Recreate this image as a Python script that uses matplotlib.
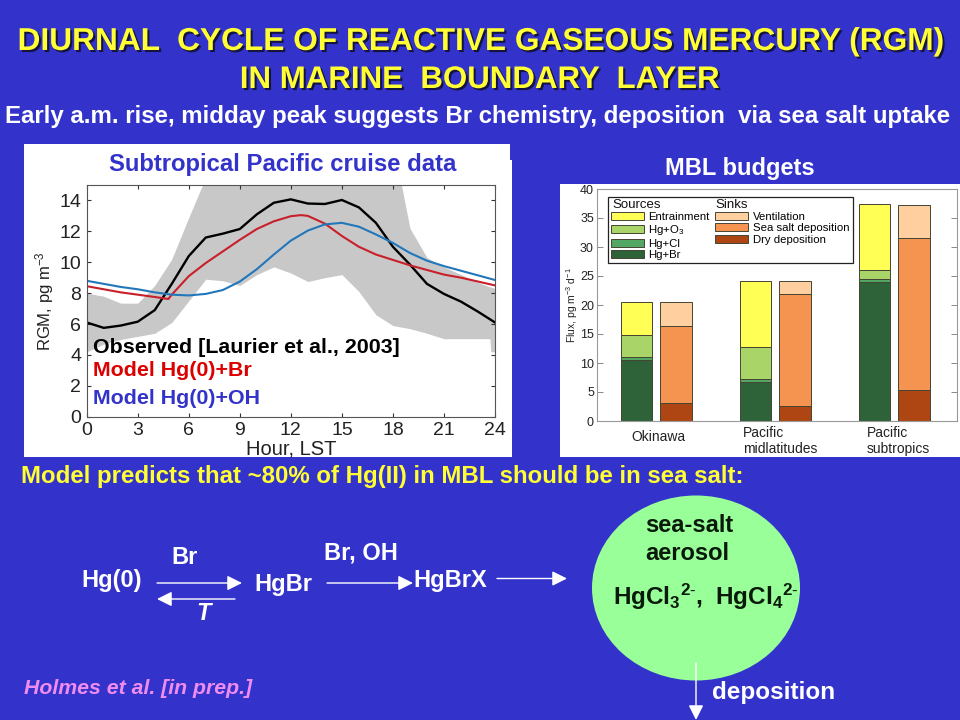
import matplotlib
matplotlib.use('Agg')
import matplotlib.pyplot as plt
import matplotlib.patheffects as pe
from matplotlib.patches import Ellipse, Patch, Rectangle

plt.rcParams['font.family'] = ['Liberation Sans', 'DejaVu Sans']
plt.rcParams['mathtext.fontset'] = 'custom'
plt.rcParams['mathtext.rm'] = 'Liberation Sans'
plt.rcParams['mathtext.bf'] = 'Liberation Sans:bold'
plt.rcParams['mathtext.default'] = 'regular'

# diurnal cycle, hour of day vs RGM
hours = [0, 1, 2, 3, 4, 5, 6, 7, 8, 9, 10, 11, 12, 13, 14, 15, 16, 17, 18, 19, 20, 21, 22, 23, 24]
observed = [6.1, 5.75, 5.9, 6.15, 6.9, 8.6, 10.4, 11.6, 11.85, 12.15, 13.1, 13.85, 14.07, 13.8, 13.77,
            14.03, 13.55, 12.55, 11.0, 9.85, 8.6, 7.95, 7.45, 6.8, 6.1]
band_hours = [0, 1, 2, 3, 4, 5, 6, 7, 8, 9, 10, 11, 12, 13, 14, 15, 16, 17, 18, 18.5, 19, 20, 21, 22, 23, 23.7, 23.75, 24]
band_upper = [8.0, 7.8, 7.35, 7.35, 8.5, 10.2, 12.9, 15.5, 15.5, 15.5, 15.5, 15.5, 15.5, 15.5, 15.5,
              15.5, 15.5, 15.5, 15.5, 15.0, 12.2, 10.3, 9.7, 9.2, 8.7, 8.4, 8.4, 8.3]
band_lower = [4.2, 4.7, 5.0, 5.2, 5.4, 6.1, 7.5, 8.9, 8.8, 8.5, 9.2, 9.7, 9.3, 8.75, 9.0,
              9.2, 8.1, 6.6, 5.9, 5.8, 5.7, 5.4, 5.05, 5.05, 5.05, 5.05, 4.2, 4.2]
br_hours = [0, 1, 2, 3, 4, 4.8, 5, 6, 7, 8, 9, 10, 11, 12, 12.6, 13, 14, 15, 16, 17, 18, 19, 20, 21, 22, 23, 24]
model_br = [8.45, 8.25, 8.05, 7.9, 7.75, 7.62, 7.9, 9.1, 9.95, 10.7, 11.45, 12.15, 12.65, 12.98, 13.05,
            13.0, 12.5, 11.7, 11.0, 10.5, 10.15, 9.8, 9.5, 9.2, 9.0, 8.75, 8.5]
model_oh = [8.8, 8.6, 8.4, 8.25, 8.05, 7.9, 7.85, 7.95, 8.2, 8.75, 9.55, 10.5, 11.4, 12.05, 12.45,
            12.55, 12.3, 11.8, 11.25, 10.6, 10.1, 9.75, 9.45, 9.15, 8.85]

# MBL budgets, one value per site
bar_pos_sources = [1, 4, 7]
bar_pos_sinks = [2, 5, 8]
hg_br = [10.6, 6.8, 24.0]
hg_cl = [0.4, 0.5, 0.5]
hg_o3 = [3.9, 5.5, 1.6]
entrainment = [5.7, 11.4, 11.3]
dry_dep = [3.1, 2.6, 5.4]
seasalt_dep = [13.3, 19.3, 26.1]
ventilation = [4.2, 2.3, 5.8]

BLUE = '#3333CC'
YELLOW = '#FFFF33'

fig = plt.figure(figsize=(9.6, 7.2), dpi=100, facecolor=BLUE)

# slide layer in pixels
bg = fig.add_axes([0, 0, 1, 1], zorder=0)
bg.set_xlim(0, 960)
bg.set_ylim(720, 0)
bg.axis('off')
bg.add_patch(Rectangle((24, 144), 486, 20, fc='white', ec='none'))
bg.add_patch(Rectangle((24, 160), 488, 297, fc='white', ec='none'))
bg.add_patch(Rectangle((560, 184), 400, 273, fc='white', ec='none'))
bg.add_patch(Ellipse((696, 588), 208, 185, fc='#99FF99', ec='none'))


def arrow(x0, y0, x1, y1):
    bg.annotate('', xy=(x1, y1), xytext=(x0, y0),
                arrowprops=dict(arrowstyle='-|>,head_length=0.9,head_width=0.45', color='white', lw=1,
                                shrinkA=0, shrinkB=0))


arrow(157, 583, 242, 583)
arrow(235, 599, 157, 599)
arrow(327, 583, 413, 583)
arrow(497, 578.5, 567, 578.5)
arrow(696, 663, 696, 720)


def label(x, y, s, color='white', size=17, ha='center', **kw):
    return fig.text(x / 960, 1 - y / 720, s, color=color, fontsize=size, ha=ha, va='center',
                    fontweight='bold', zorder=5, **kw)


shadow = [pe.withSimplePatchShadow(offset=(1.5, -1.5), shadow_rgbFace='#111133', alpha=0.9)]
label(480, 42, 'DIURNAL  CYCLE OF REACTIVE GASEOUS MERCURY (RGM)', YELLOW, 22.8, path_effects=shadow)
label(480, 80, 'IN MARINE  BOUNDARY  LAYER', YELLOW, 22.5, path_effects=shadow)
label(478, 116, 'Early a.m. rise, midday peak suggests Br chemistry, deposition  via sea salt uptake', size=17.3)
label(283, 164, 'Subtropical Pacific cruise data', BLUE, 17.2)
label(740, 168, 'MBL budgets')
label(21, 477, 'Model predicts that ~80% of Hg(II) in MBL should be in sea salt:', YELLOW, 17.3, ha='left')
label(112, 581, 'Hg(0)')
label(185, 557, 'Br')
label(283, 585, 'HgBr')
label(361, 553, 'Br, OH')
label(450, 581, 'HgBrX')
label(204, 613, 'T', style='italic')
label(645, 525, 'sea-salt', '#0A1A0A', ha='left')
label(645, 553, 'aerosol', '#0A1A0A', ha='left')
label(706, 597, r'$\mathbf{HgCl_3{}^{2\text{-}},\ HgCl_4{}^{2\text{-}}}$', '#0A1A0A', 17.5)
label(712, 693, 'deposition', size=17.5, ha='left')
label(24, 689, 'Holmes et al. [in prep.]', '#F08CF0', 15.3, ha='left', style='italic')

# left panel
ax = fig.add_axes([86.7 / 960, 1 - 416.7 / 720, 408.3 / 960, 231.7 / 720], zorder=1)
ax.fill_between(band_hours, band_lower, band_upper, color='#C8C8C8', lw=0)
ax.plot(hours, observed, color='black', lw=1.7)
ax.plot(br_hours, model_br, color='#C8202A', lw=1.5)
ax.plot(hours, model_oh, color='#2277BB', lw=1.5)
ax.set_xlim(0, 24)
ax.set_ylim(0, 15)
ax.set_xticks(range(0, 25, 3))
ax.set_yticks(range(0, 15, 2))
ax.tick_params(direction='in', top=True, right=True, length=3, width=0.8, labelsize=14, pad=4,
               color='#333333', labelcolor='#222222')
for s in ax.spines.values():
    s.set_color('#555555')
ax.set_xlabel('Hour, LST', fontsize=14.5, color='#222222', labelpad=0)
ax.set_ylabel('RGM, pg m$^{-3}$', fontsize=12, color='#222222', labelpad=2)
label(93, 347, 'Observed [Laurier et al., 2003]', 'black', 15.4, ha='left')
label(93, 371, 'Model Hg(0)+Br', '#DD0000', 15.4, ha='left')
label(93, 398, 'Model Hg(0)+OH', BLUE, 15.4, ha='left')

# right panel
ax2 = fig.add_axes([596.7 / 960, 1 - 421 / 720, 360 / 960, 232 / 720], zorder=1)
bar_kw = dict(width=0.8, edgecolor='#444433', linewidth=0.7)


def stack(ax, pos, layers, colors):
    bottom = [0, 0, 0]
    for vals, c in zip(layers, colors):
        ax.bar(pos, vals, bottom=bottom, color=c, **bar_kw)
        bottom = [b + v for b, v in zip(bottom, vals)]


src_colors = ['#2E6238', '#52A862', '#A8D468', '#FFFF55']
sink_colors = ['#AE4614', '#F49450', '#FFCFA0']
stack(ax2, bar_pos_sources, [hg_br, hg_cl, hg_o3, entrainment], src_colors)
stack(ax2, bar_pos_sinks, [dry_dep, seasalt_dep, ventilation], sink_colors)
ax2.set_xlim(0, 9.07)
ax2.set_ylim(0, 40)
ax2.set_xticks([])
ax2.set_yticks(range(0, 41, 5))
ax2.tick_params(direction='in', right=True, length=4, width=0.7, labelsize=9, pad=2,
                color='#888888', labelcolor='#222222')
for s in ax2.spines.values():
    s.set_color('#999999')
ax2.set_ylabel('Flux, pg m$^{-3}$ d$^{-1}$', fontsize=7.5, color='#222222', labelpad=0)

blank = Patch(fc='none', ec='none')
handles = [blank] + [Patch(fc=c, ec='#444433', lw=0.7) for c in src_colors[::-1]] \
    + [blank] + [Patch(fc=c, ec='#444433', lw=0.7) for c in sink_colors[::-1]] + [blank]
names = [' ', 'Entrainment', 'Hg+O$_3$', 'Hg+Cl', 'Hg+Br', ' ', 'Ventilation', 'Sea salt deposition',
         'Dry deposition', ' ']
leg = ax2.legend(handles, names, ncol=2, loc='upper left', bbox_to_anchor=(0.03, 0.965), fontsize=8.2,
                 fancybox=False, framealpha=1, edgecolor='#222222', labelspacing=0.12, handlelength=2.9,
                 handleheight=0.7, handletextpad=0.4, columnspacing=0.45, borderpad=0.3, borderaxespad=0)
leg.get_frame().set_linewidth(0.9)
fig.text(612 / 960, 1 - 205.5 / 720, 'Sources', fontsize=9.5, color='#111111', va='center', zorder=5)
fig.text(715 / 960, 1 - 205.5 / 720, 'Sinks', fontsize=9.5, color='#111111', va='center', zorder=5)
for x, y, s in [(658, 437, 'Okinawa'), (780, 441, 'Pacific\nmidlatitudes'), (898, 441, 'Pacific\nsubtropics')]:
    fig.text(x / 960, 1 - y / 720, s, fontsize=10, color='#222222', ha='center', va='center', ma='left',
             linespacing=1.25, zorder=5)

fig.savefig('out.png', dpi=100, facecolor=BLUE)
